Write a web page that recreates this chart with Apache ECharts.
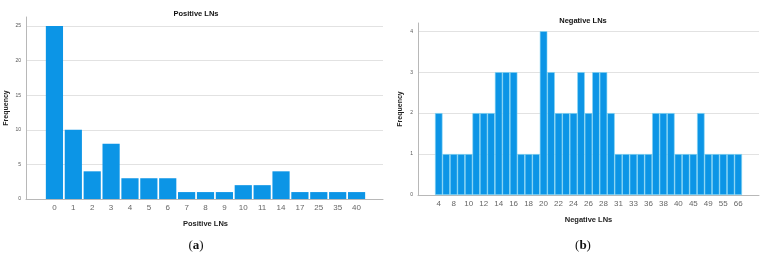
<!DOCTYPE html>
<html>
<head>
<meta charset="utf-8">
<script src="https://cdn.jsdelivr.net/npm/echarts@6/dist/echarts.min.js"></script>
<style>
  html, body { margin: 0; padding: 0; background: #fff; }
</style>
</head>
<body>
<div id="container" style="width: 770px; height: 256px"></div>
<script>
// (a) Positive LNs
const posCategories = ["0", "1", "2", "3", "4", "5", "6", "7", "8", "9", "10", "11", "14", "17", "25", "35", "40"];
const posCounts = [25, 10, 4, 8, 3, 3, 3, 1, 1, 1, 2, 2, 4, 1, 1, 1, 1];

// (b) Negative LNs (every other category is labelled in the figure)
const negCategories = ["4", "7", "8", "9", "10", "11", "12", "13", "14", "15", "16", "17", "18", "19", "20", "21",
  "22", "23", "24", "25", "26", "27", "28", "29", "31", "32", "33", "34", "36", "37", "38", "39", "40", "43",
  "45", "47", "49", "52", "55", "57", "66"];
const negCounts = [2, 1, 1, 1, 1, 2, 2, 2, 3, 3, 3, 1, 1, 1, 4, 3, 2, 2, 2, 3, 2, 3, 3, 2, 1, 1, 1, 1, 1, 2, 2, 2,
  1, 1, 1, 2, 1, 1, 1, 1, 1];

const BLUE = "#0c95e6";
const FONT = "Liberation Sans";

const chart = echarts.init(document.getElementById("container"));

// frame axis: y labels, grid lines, axis lines
function frameY(gridIndex, max, interval, nameGap) {
  return {
    gridIndex: gridIndex,
    type: "value",
    min: 0,
    max: max,
    interval: interval,
    name: "Frequency",
    nameLocation: "middle",
    nameGap: nameGap,
    nameTextStyle: { fontFamily: FONT, fontSize: 7, fontWeight: "bold", color: "#222" },
    axisLine: { show: true, lineStyle: { color: "#b8b8b8", width: 1 } },
    axisTick: { show: false },
    axisLabel: { showMaxLabel: false, fontFamily: FONT, fontSize: 5, color: "#555", margin: 5 },
    splitLine: { show: true, showMaxLine: false, lineStyle: { color: "#e2e2e2", width: 1 } }
  };
}
function frameX(gridIndex) {
  return {
    gridIndex: gridIndex,
    type: "value",
    min: 0,
    max: 1,
    axisLine: { show: true, lineStyle: { color: "#b8b8b8", width: 1 } },
    axisTick: { show: false },
    axisLabel: { show: false },
    splitLine: { show: false }
  };
}
function barX(gridIndex, cats, labelInterval, name, nameGap) {
  return {
    gridIndex: gridIndex,
    type: "category",
    data: cats,
    name: name,
    nameLocation: "middle",
    nameGap: nameGap,
    nameTextStyle: { fontFamily: FONT, fontSize: 7.5, fontWeight: "bold", color: "#222" },
    axisLine: { show: false },
    axisTick: { show: false },
    axisLabel: { interval: labelInterval, fontFamily: FONT, fontSize: 8, color: "#666", margin: 5 }
  };
}
function barY(gridIndex, max) {
  return { gridIndex: gridIndex, type: "value", min: 0, max: max, show: false };
}
function caption(letter, x) {
  return {
    text: "{p|(}{b|" + letter + "}{p|)}",
    left: x,
    top: 234,
    textAlign: "center",
    textStyle: {
      fontWeight: "normal",
      rich: {
        p: { fontFamily: "Liberation Serif", fontSize: 13, fontWeight: "normal", color: "#111" },
        b: { fontFamily: "Liberation Serif", fontSize: 13, fontWeight: "bold", color: "#111" }
      }
    }
  };
}

const option = {
  animation: false,
  title: [
    { text: "Positive LNs", left: 191, top: 5, textAlign: "center",
      textStyle: { fontFamily: FONT, fontSize: 7.5, fontWeight: "bold", color: "#111" } },
    { text: "Negative LNs", left: 578, top: 12, textAlign: "center",
      textStyle: { fontFamily: FONT, fontSize: 7.5, fontWeight: "bold", color: "#111" } },
    caption("a", 191),
    caption("b", 578)
  ],
  grid: [
    { left: 26, right: 387, top: 17, bottom: 57 },
    { left: 45, right: 404, top: 17, bottom: 57 },
    { left: 418, right: 11, top: 23, bottom: 61 },
    { left: 435, right: 28, top: 23, bottom: 61 }
  ],
  xAxis: [
    frameX(0),
    barX(1, posCategories, 0, "Positive LNs", 21),
    frameX(2),
    barX(3, negCategories, 1, "Negative LNs", 21)
  ],
  yAxis: [
    frameY(0, 26.3, 5, 16),
    barY(1, 26.3),
    frameY(2, 4.2, 1, 14),
    barY(3, 4.2)
  ],
  series: [
    {
      name: "Positive LNs",
      type: "bar",
      xAxisIndex: 1,
      yAxisIndex: 1,
      data: posCounts,
      barCategoryGap: "9%",
      itemStyle: { color: BLUE }
    },
    {
      name: "Negative LNs",
      type: "bar",
      xAxisIndex: 3,
      yAxisIndex: 3,
      data: negCounts,
      barCategoryGap: "0%",
      itemStyle: { color: BLUE, borderColor: "#86d6f4", borderWidth: 0.6 }
    }
  ]
};
chart.setOption(option);
</script>
</body>
</html>
